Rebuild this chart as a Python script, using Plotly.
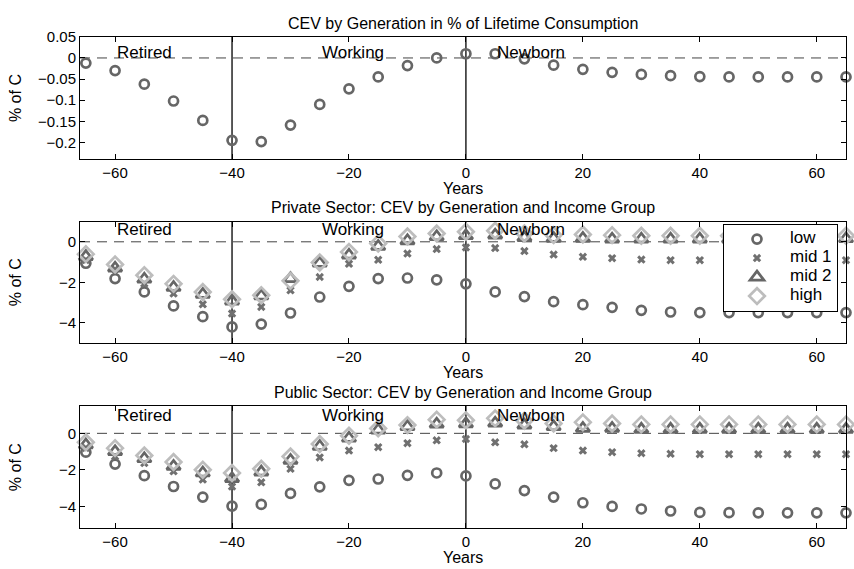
import plotly.graph_objects as go

# Generation (years relative to reform; negative = already born)
years = [-65, -60, -55, -50, -45, -40, -35, -30, -25, -20, -15, -10, -5,
         0, 5, 10, 15, 20, 25, 30, 35, 40, 45, 50, 55, 60, 65]

# Panel 1: aggregate CEV, % of lifetime consumption
cev_total = [-0.012, -0.030, -0.062, -0.102, -0.148, -0.195, -0.198, -0.159,
             -0.110, -0.073, -0.045, -0.018, 0.000, 0.010, 0.010, -0.002,
             -0.017, -0.027, -0.034, -0.039, -0.042, -0.044, -0.045, -0.045,
             -0.045, -0.045, -0.045]

# Panel 2: private sector, by income group
priv_low = [-1.06, -1.82, -2.48, -3.17, -3.70, -4.21, -4.07, -3.52, -2.73,
            -2.20, -1.82, -1.79, -1.88, -2.08, -2.48, -2.71, -2.96, -3.11,
            -3.24, -3.39, -3.47, -3.50, -3.50, -3.50, -3.50, -3.50, -3.50]
priv_mid1 = [-0.90, -1.36, -2.07, -2.56, -3.09, -3.55, -3.22, -2.40, -1.74,
             -1.09, -0.89, -0.58, -0.36, -0.28, -0.31, -0.46, -0.63, -0.74,
             -0.81, -0.88, -0.91, -0.91, -0.91, -0.91, -0.91, -0.91, -0.91]
priv_mid2 = [-0.73, -1.30, -1.85, -2.26, -2.60, -2.93, -2.68, -1.82, -1.06,
             -0.66, -0.23, 0.05, 0.25, 0.30, 0.33, 0.21, 0.17, 0.17, 0.13,
             0.13, 0.13, 0.13, 0.13, 0.13, 0.13, 0.13, 0.15]
priv_high = [-0.61, -1.12, -1.65, -2.08, -2.48, -2.84, -2.64, -1.93, -1.02,
             -0.50, -0.08, 0.26, 0.41, 0.50, 0.55, 0.41, 0.33, 0.36, 0.33,
             0.30, 0.30, 0.30, 0.30, 0.30, 0.30, 0.30, 0.30]

# Panel 3: public sector, by income group
pub_low = [-1.03, -1.68, -2.32, -2.91, -3.49, -3.98, -3.89, -3.29, -2.93,
           -2.57, -2.50, -2.30, -2.17, -2.33, -2.77, -3.13, -3.49, -3.80,
           -4.00, -4.14, -4.25, -4.33, -4.34, -4.35, -4.35, -4.35, -4.35]
pub_mid1 = [-0.80, -1.27, -1.63, -2.08, -2.53, -2.91, -2.68, -1.94, -1.32,
            -0.94, -0.76, -0.54, -0.38, -0.31, -0.49, -0.60, -0.81, -0.94,
            -1.03, -1.09, -1.12, -1.14, -1.14, -1.14, -1.14, -1.14, -1.14]
pub_mid2 = [-0.63, -1.00, -1.39, -1.81, -2.17, -2.48, -2.12, -1.48, -0.72,
            -0.27, 0.18, 0.36, 0.50, 0.52, 0.56, 0.45, 0.36, 0.27, 0.27,
            0.22, 0.22, 0.22, 0.22, 0.22, 0.22, 0.22, 0.22]
pub_high = [-0.49, -0.81, -1.21, -1.57, -1.99, -2.17, -1.94, -1.27, -0.58,
            -0.13, 0.27, 0.45, 0.75, 0.72, 0.82, 0.69, 0.54, 0.60, 0.54,
            0.49, 0.49, 0.49, 0.49, 0.49, 0.49, 0.49, 0.49]

group_names = ["low", "mid 1", "mid 2", "high"]
panel_titles = ["CEV by Generation in % of Lifetime Consumption",
                "Private Sector: CEV by Generation and Income Group",
                "Public Sector: CEV by Generation and Income Group"]

# Cohort boundaries and region labels (x, label)
boundaries = [-40, 0]
regions = [(-60, "Retired"), (-25, "Working"), (5, "Newborn")]
region_label_y = [0.012, 0.63, 0.95]

x_range = [-66, 65]
x_ticks = [-60, -40, -20, 0, 20, 40, 60]
y_ranges = [[-0.24, 0.05], [-5, 1], [-5.2, 1.5]]
y_ticks = [[-0.2, -0.15, -0.1, -0.05, 0, 0.05], [-4, -2, 0], [-4, -2, 0]]

W, H = 854, 569
FONT = "Liberation Sans, Arial, Helvetica, sans-serif"
FS_TICK = 15
FS_LABEL = 16
FS = 17
# pixel boxes of each panel (top, bottom)
panel_px = [(28.3, 152.7), (216.0, 339.3), (403.3, 527.7)]
x_px = (80.0, 846.0)

styles = {
    "low": dict(symbol="circle-open", size=9, color="#666666",
                line=dict(width=2.7, color="#666666")),
    "mid 1": dict(symbol="x", size=7.5, color="#707070",
                  line=dict(width=0, color="#707070")),
    "mid 2": dict(symbol="triangle-up-open", size=12, color="#666666",
                  line=dict(width=2.7, color="#666666")),
    "high": dict(symbol="diamond-open", size=12, color="#bdbdbd",
                 line=dict(width=2.7, color="#bdbdbd")),
}

fig = go.Figure()


def add(series, name, row, legend):
    xa = "x" if row == 1 else f"x{row}"
    ya = "y" if row == 1 else f"y{row}"
    # legend rows are spaced by the small base font; label drawn larger
    label = f'<span style="font-size:{FS}px">{name}</span>'
    fig.add_trace(go.Scatter(
        x=years, y=series, mode="markers", name=label,
        marker=styles[name], xaxis=xa, yaxis=ya,
        showlegend=legend, cliponaxis=False))


add(cev_total, "low", 1, False)
for name, s in zip(group_names, [priv_low, priv_mid1, priv_mid2, priv_high]):
    add(s, name, 2, True)
for name, s in zip(group_names, [pub_low, pub_mid1, pub_mid2, pub_high]):
    add(s, name, 3, False)

axis_common = dict(showline=True, linecolor="black", linewidth=1,
                   mirror="ticks", ticks="inside", ticklen=5,
                   tickcolor="black", showgrid=False, zeroline=False,
                   tickfont=dict(family=FONT, size=FS_TICK, color="black"))

layout = dict(width=W, height=H, margin=dict(l=0, r=0, t=0, b=0),
              plot_bgcolor="white", paper_bgcolor="white",
              font=dict(family=FONT, size=FS, color="black"))

annotations = []
shapes = []
xd = [x_px[0] / W, x_px[1] / W]
xmid = (xd[0] + xd[1]) / 2
for i in range(3):
    r = i + 1
    sfx = "" if r == 1 else str(r)
    top, bot = panel_px[i]
    yd = [1 - bot / H, 1 - top / H]
    layout["xaxis" + sfx] = dict(axis_common, domain=xd, range=x_range,
                                 tickvals=x_ticks, anchor="y" + sfx)
    layout["yaxis" + sfx] = dict(axis_common, domain=yd, range=y_ranges[i],
                                 tickvals=y_ticks[i], anchor="x" + sfx)
    # panel title
    annotations.append(dict(text=panel_titles[i], xref="paper", yref="paper",
                            x=xmid, y=1 - (top - 14) / H, xanchor="center",
                            yanchor="middle", showarrow=False,
                            font=dict(size=FS_LABEL)))
    # x axis label
    annotations.append(dict(text="Years", xref="paper", yref="paper",
                            x=xmid, y=1 - (bot + 30) / H, xanchor="center",
                            yanchor="middle", showarrow=False,
                            font=dict(size=FS_LABEL)))
    # y axis label
    annotations.append(dict(text="% of C", xref="paper", yref="paper",
                            x=15 / W, y=(yd[0] + yd[1]) / 2, xanchor="center",
                            yanchor="middle", textangle=-90, showarrow=False,
                            font=dict(size=FS_LABEL)))
    # region labels
    for rx, label in regions:
        annotations.append(dict(text=label, xref="x" + sfx, yref="y" + sfx,
                                x=rx, y=region_label_y[i], xanchor="left",
                                yanchor="middle", showarrow=False,
                                font=dict(size=FS)))
    # zero reference line
    shapes.append(dict(type="line", xref="x" + sfx + " domain",
                       yref="y" + sfx, x0=0, x1=1, y0=0, y1=0,
                       line=dict(color="#444444", width=1, dash="10px,7px"),
                       layer="below"))
    # cohort boundaries
    for b in boundaries:
        shapes.append(dict(type="line", xref="x" + sfx,
                           yref="y" + sfx + " domain", x0=b, x1=b, y0=0, y1=1,
                           line=dict(color="black", width=1.3), layer="below"))

layout["annotations"] = annotations
layout["shapes"] = shapes
layout["legend"] = dict(x=723 / W, y=1 - 218 / H, xanchor="left",
                        yanchor="top", bgcolor="white", bordercolor="black",
                        borderwidth=1, font=dict(size=11), itemwidth=56,
                        tracegroupgap=0)
fig.update_layout(**layout)

fig.write_html("out.html")
